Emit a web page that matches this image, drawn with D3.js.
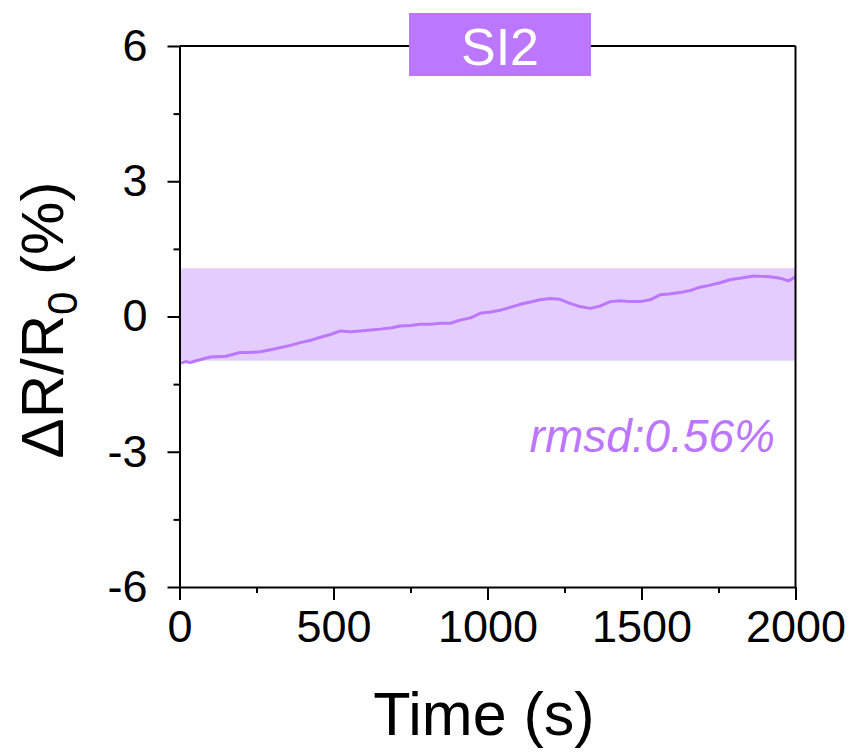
<!DOCTYPE html>
<html>
<head>
<meta charset="utf-8">
<script src="https://cdn.jsdelivr.net/npm/d3@7/dist/d3.min.js"></script>
<style>
  html, body { margin: 0; padding: 0; background: #fff; }
  svg { display: block; font-family: Arial, "Liberation Sans", sans-serif; }
</style>
</head>
<body>
<svg id="chart" width="857" height="754"></svg>
<script>
// ---- data ----
const times = [0,20,35,60,100,150,197,230,262,300,327,360,392,430,457,490,522,555,587,620,652,690,716,750,781,815,846,880,911,945,976,1010,1041,1063,1106,1140,1171,1203,1235,1268,1300,1333,1365,1398,1430,1463,1495,1528,1560,1590,1625,1660,1690,1720,1755,1790,1820,1863,1890,1917,1950,1977,2000];
const values = [-1.04,-1.00,-1.02,-0.97,-0.90,-0.88,-0.80,-0.80,-0.78,-0.73,-0.69,-0.64,-0.58,-0.52,-0.46,-0.40,-0.32,-0.34,-0.32,-0.30,-0.28,-0.25,-0.21,-0.20,-0.17,-0.17,-0.15,-0.15,-0.08,-0.03,0.07,0.10,0.14,0.18,0.27,0.32,0.37,0.40,0.38,0.29,0.22,0.18,0.23,0.33,0.35,0.33,0.33,0.37,0.48,0.50,0.53,0.58,0.65,0.69,0.75,0.82,0.85,0.90,0.89,0.88,0.85,0.79,0.88];
const band = [-0.98, 1.07];
const xMajorTicks = [0, 500, 1000, 1500, 2000];
const xMinorTicks = [250, 750, 1250, 1750];
const yMajorTicks = [-6, -3, 0, 3, 6];
const yMinorTicks = [-4.5, -1.5, 1.5, 4.5];
const title = "SI2";
const rmsdText = "rmsd:0.56%";

const purple = "#bb77ff";
const bandColor = "#e5ccff";

const svg = d3.select("#chart");
const x = d3.scaleLinear().domain([0, 2000]).range([179.5, 795.5]);
const y = d3.scaleLinear().domain([-6, 6]).range([587, 46]);
const fmt = d => String(d);

// band
svg.append("rect")
  .attr("x", x(0)).attr("width", x(2000) - x(0))
  .attr("y", y(band[1])).attr("height", y(band[0]) - y(band[1]))
  .attr("fill", bandColor);

// line
const pts = times.map((t, i) => [t, values[i]]);
svg.append("path")
  .datum(pts)
  .attr("fill", "none")
  .attr("stroke", purple)
  .attr("stroke-width", 3)
  .attr("stroke-linejoin", "round")
  .attr("d", d3.line().x(d => x(d[0])).y(d => y(d[1])));

// frame: top and right
svg.append("line").attr("x1", x(0)).attr("x2", x(2000)).attr("y1", y(6)).attr("y2", y(6))
  .attr("stroke", "#000").attr("stroke-width", 2);
svg.append("line").attr("x1", x(2000)).attr("x2", x(2000)).attr("y1", y(6)).attr("y2", y(-6))
  .attr("stroke", "#000").attr("stroke-width", 2);

// x axis
const xAxis = svg.append("g").attr("transform", `translate(0,${y(-6)})`)
  .call(d3.axisBottom(x).tickValues(xMajorTicks).tickSize(13).tickPadding(10).tickSizeOuter(0).tickFormat(fmt));
xAxis.select(".domain").attr("stroke-width", 2);
xAxis.selectAll(".tick line").attr("stroke-width", 2);
xAxis.selectAll("text").attr("font-size", 45).attr("fill", "#000").attr("font-family", "Arial, 'Liberation Sans', sans-serif");
const xMinor = svg.append("g").attr("transform", `translate(0,${y(-6)})`)
  .call(d3.axisBottom(x).tickValues(xMinorTicks).tickSize(6).tickFormat("").tickSizeOuter(0));
xMinor.select(".domain").remove();
xMinor.selectAll(".tick line").attr("stroke-width", 2);

// y axis
const yAxis = svg.append("g").attr("transform", `translate(${x(0)},0)`)
  .call(d3.axisLeft(y).tickValues(yMajorTicks).tickSize(12).tickPadding(20).tickSizeOuter(0).tickFormat(fmt));
yAxis.select(".domain").attr("stroke-width", 2);
yAxis.selectAll(".tick line").attr("stroke-width", 2);
yAxis.selectAll("text").attr("font-size", 45).attr("fill", "#000").attr("font-family", "Arial, 'Liberation Sans', sans-serif");
const yMinor = svg.append("g").attr("transform", `translate(${x(0)},0)`)
  .call(d3.axisLeft(y).tickValues(yMinorTicks).tickSize(6).tickFormat("").tickSizeOuter(0));
yMinor.select(".domain").remove();
yMinor.selectAll(".tick line").attr("stroke-width", 2);

// axis titles
svg.append("text")
  .attr("x", 484).attr("y", 735)
  .attr("text-anchor", "middle")
  .attr("font-size", 61)
  .attr("fill", "#000")
  .text("Time (s)");

const yt = svg.append("text")
  .attr("transform", "translate(63,320) rotate(-90)")
  .attr("text-anchor", "middle")
  .attr("font-size", 60)
  .attr("fill", "#000");
yt.append("tspan").text("\u0394R/R");
yt.append("tspan").text("0").attr("font-size", 42).attr("dy", 14);
yt.append("tspan").text("\u00a0(%)").attr("dy", -14);

// title box
svg.append("rect")
  .attr("x", 409).attr("y", 13).attr("width", 182).attr("height", 63)
  .attr("fill", purple);
svg.append("text")
  .attr("x", 500).attr("y", 65)
  .attr("text-anchor", "middle")
  .attr("font-size", 52)
  .attr("fill", "#fff")
  .text(title);

// rmsd
svg.append("text")
  .attr("x", 775).attr("y", 452)
  .attr("text-anchor", "end")
  .attr("font-size", 46)
  .attr("font-style", "italic")
  .attr("fill", purple)
  .text(rmsdText);
</script>
</body>
</html>
